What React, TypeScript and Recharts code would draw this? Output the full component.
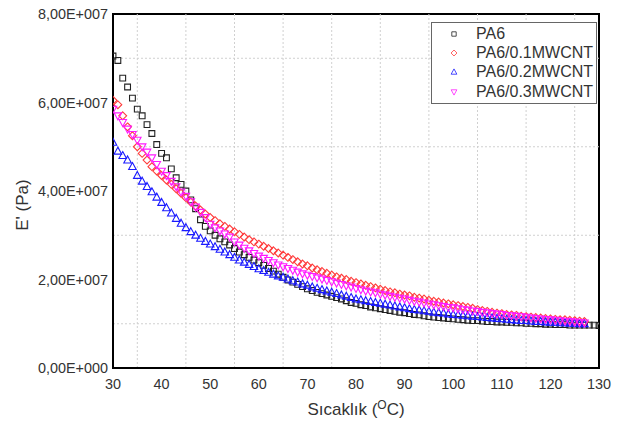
import React from 'react';
import {
  ScatterChart,
  Scatter,
  XAxis,
  YAxis,
  ReferenceLine,
  ReferenceArea,
  Legend,
} from 'recharts';

// temperature (°C) – one reading per degree
const temps = [
  30, 31, 32, 33, 34, 35, 36, 37, 38, 39, 40, 41, 42, 43, 44, 45, 46, 47, 48, 49,
  50, 51, 52, 53, 54, 55, 56, 57, 58, 59, 60, 61, 62, 63, 64, 65, 66, 67, 68, 69,
  70, 71, 72, 73, 74, 75, 76, 77, 78, 79, 80, 81, 82, 83, 84, 85, 86, 87, 88, 89,
  90, 91, 92, 93, 94, 95, 96, 97, 98, 99, 100, 101, 102, 103, 104, 105, 106, 107, 108, 109,
  110, 111, 112, 113, 114, 115, 116, 117, 118, 119, 120, 121, 122, 123, 124, 125, 126, 127, 128, 129,
  130,
];

// E' in units of 1e7 Pa
const pa6 = [
  7.05, 6.95, 6.55, 6.35, 6.1, 5.85, 5.7, 5.5, 5.3, 5.05, 4.85, 4.75, 4.5, 4.3, 4.15, 4.0, 3.8, 3.6, 3.35, 3.2,
  3.1, 3.0, 2.92, 2.85, 2.78, 2.7, 2.62, 2.56, 2.5, 2.44, 2.38, 2.32, 2.25, 2.19, 2.12, 2.05, 1.99, 1.94, 1.89, 1.84,
  1.79, 1.75, 1.71, 1.68, 1.65, 1.62, 1.59, 1.56, 1.52, 1.48, 1.46, 1.43, 1.41, 1.38, 1.36, 1.34, 1.32, 1.3, 1.28, 1.26,
  1.25, 1.23, 1.21, 1.2, 1.18, 1.16, 1.15, 1.14, 1.13, 1.12, 1.11, 1.1, 1.09, 1.08, 1.07, 1.07, 1.06, 1.05, 1.05, 1.04,
  1.04, 1.03, 1.03, 1.02, 1.02, 1.01, 1.01, 1.0, 1.0, 0.99, 0.99, 0.98, 0.98, 0.98, 0.97, 0.97, 0.97, 0.97, 0.97, 0.97,
  0.96,
];

const pa6_01 = [
  6.05, 5.95, 5.7, 5.45, 5.25, 5.0, 4.85, 4.7, 4.55, 4.45, 4.35, 4.25, 4.15, 4.05, 3.95, 3.85, 3.75, 3.66, 3.57, 3.48,
  3.4, 3.33, 3.26, 3.2, 3.14, 3.08, 3.02, 2.96, 2.9, 2.85, 2.8, 2.75, 2.7, 2.65, 2.6, 2.55, 2.5, 2.45, 2.4, 2.35,
  2.31, 2.26, 2.22, 2.18, 2.14, 2.1, 2.06, 2.03, 2.0, 1.96, 1.93, 1.9, 1.87, 1.84, 1.81, 1.78, 1.75, 1.72, 1.7, 1.67,
  1.65, 1.63, 1.6, 1.58, 1.56, 1.53, 1.51, 1.49, 1.47, 1.45, 1.43, 1.41, 1.39, 1.37, 1.35, 1.32, 1.3, 1.28, 1.26, 1.24,
  1.23, 1.21, 1.2, 1.19, 1.17, 1.16, 1.15, 1.14, 1.13, 1.12, 1.11, 1.1, 1.09, 1.09, 1.08, 1.07, 1.06, 1.05,
];

const pa6_02 = [
  5.1, 4.9, 4.8, 4.7, 4.55, 4.35, 4.22, 4.1, 3.98, 3.86, 3.74, 3.62, 3.5, 3.38, 3.27, 3.17, 3.08, 3.0, 2.93, 2.86,
  2.8, 2.74, 2.68, 2.62, 2.56, 2.5, 2.44, 2.39, 2.34, 2.29, 2.24, 2.2, 2.16, 2.12, 2.08, 2.05, 2.01, 1.97, 1.94, 1.9,
  1.87, 1.83, 1.8, 1.77, 1.74, 1.71, 1.68, 1.65, 1.62, 1.59, 1.56, 1.54, 1.52, 1.5, 1.48, 1.46, 1.44, 1.42, 1.4, 1.38,
  1.36, 1.34, 1.32, 1.31, 1.29, 1.28, 1.26, 1.25, 1.24, 1.22, 1.21, 1.2, 1.19, 1.18, 1.17, 1.16, 1.15, 1.14, 1.13, 1.12,
  1.11, 1.1, 1.09, 1.08, 1.07, 1.07, 1.06, 1.05, 1.05, 1.04, 1.03, 1.03, 1.02, 1.02, 1.01, 1.01, 1.0, 1.0,
];

const pa6_03 = [
  5.85, 5.7, 5.55, 5.4, 5.28, 5.15, 5.0, 4.88, 4.75, 4.6, 4.45, 4.35, 4.22, 4.1, 3.98, 3.88, 3.76, 3.64, 3.52, 3.4,
  3.25, 3.17, 3.1, 3.03, 2.96, 2.85, 2.78, 2.71, 2.65, 2.59, 2.53, 2.48, 2.43, 2.38, 2.33, 2.29, 2.25, 2.21, 2.17, 2.13,
  2.1, 2.07, 2.04, 2.01, 1.98, 1.95, 1.92, 1.89, 1.86, 1.83, 1.8, 1.77, 1.74, 1.72, 1.7, 1.67, 1.65, 1.62, 1.6, 1.58,
  1.56, 1.53, 1.51, 1.49, 1.47, 1.45, 1.43, 1.41, 1.39, 1.37, 1.36, 1.34, 1.32, 1.31, 1.29, 1.28, 1.26, 1.25, 1.23, 1.22,
  1.21, 1.19, 1.18, 1.17, 1.16, 1.15, 1.13, 1.12, 1.11, 1.1, 1.09, 1.08, 1.07, 1.06, 1.05, 1.04, 1.03, 1.02,
];

const xTicks = [30, 40, 50, 60, 70, 80, 90, 100, 110, 120, 130];
const yTicks = [0, 2, 4, 6, 8];
const xGrid = [35, 45, 55, 65, 75, 85, 95, 105, 115, 125];
const yGrid = [1, 3, 5, 7];

const toPoints = (vals: number[]) => vals.map((e, i) => ({ t: temps[i], e }));

type Kind = 'square' | 'diamond' | 'up' | 'down';

const series: { name: string; kind: Kind; color: string; data: { t: number; e: number }[] }[] = [
  { name: 'PA6', kind: 'square', color: '#222222', data: toPoints(pa6) },
  { name: 'PA6/0.1MWCNT', kind: 'diamond', color: '#ff3b3b', data: toPoints(pa6_01) },
  { name: 'PA6/0.2MWCNT', kind: 'up', color: '#1a1aff', data: toPoints(pa6_02) },
  { name: 'PA6/0.3MWCNT', kind: 'down', color: '#ff1aff', data: toPoints(pa6_03) },
];

const FONT = '"Liberation Sans", Arial, sans-serif';

function markerPath(kind: Kind, cx: number, cy: number, s: number) {
  switch (kind) {
    case 'square':
      return `M${cx - s},${cy - s}h${2 * s}v${2 * s}h${-2 * s}Z`;
    case 'diamond':
      return `M${cx},${cy - s * 1.35}L${cx + s * 1.35},${cy}L${cx},${cy + s * 1.35}L${cx - s * 1.35},${cy}Z`;
    case 'up':
      return `M${cx},${cy - s * 1.4}L${cx + s * 1.3},${cy + s}L${cx - s * 1.3},${cy + s}Z`;
    default:
      return `M${cx},${cy + s * 1.4}L${cx + s * 1.3},${cy - s}L${cx - s * 1.3},${cy - s}Z`;
  }
}

const makeShape = (kind: Kind, color: string) => (props: any) => {
  const { cx, cy } = props;
  if (cx == null || cy == null) return <g />;
  return <path d={markerPath(kind, cx, cy, 2.9)} fill="none" stroke={color} strokeWidth={1.1} />;
};

function sciLabel(v: number) {
  if (v === 0) return '0,00E+000';
  const val = v * 1e7;
  const exp = Math.floor(Math.log10(val));
  const mant = (val / Math.pow(10, exp)).toFixed(2).replace('.', ',');
  return `${mant}E+${String(exp).padStart(3, '0')}`;
}

function XTitle({ viewBox }: any) {
  const x = viewBox.x + viewBox.width / 2;
  const y = viewBox.y + 47;
  return (
    <text x={x} y={y} textAnchor="middle" fontFamily={FONT} fontSize={17} fill="#333">
      Sıcaklık (
      <tspan fontSize={12} dy={-6}>O</tspan>
      <tspan dy={6}>C)</tspan>
    </text>
  );
}

function YTitle({ viewBox }: any) {
  const x = viewBox.x + 14;
  const y = viewBox.y + viewBox.height / 2 + 14;
  return (
    <text
      x={x}
      y={y}
      textAnchor="middle"
      fontFamily={FONT}
      fontSize={17}
      fill="#333"
      transform={`rotate(-90 ${x} ${y})`}
      dominantBaseline="central"
    >
      E' (Pa)
    </text>
  );
}

function LegendBox() {
  return (
    <div
      style={{
        border: '1px solid #666',
        background: '#fff',
        width: 164,
        padding: '1px 0 2px 0',
        fontFamily: FONT,
        fontSize: 16,
        color: '#333',
      }}
    >
      {series.map((s) => (
        <div key={s.name} style={{ display: 'flex', alignItems: 'center', height: 19.3 }}>
          <svg width={44} height={14} style={{ flex: 'none' }}>
            <path d={markerPath(s.kind, 22, 7, 2.2)} fill="none" stroke={s.color} strokeWidth={1} opacity={0.8} />
          </svg>
          <span>{s.name}</span>
        </div>
      ))}
    </div>
  );
}

export default function App() {
  return (
    <div style={{ width: 618, height: 424, background: '#fff' }}>
      <style>{`body{margin:0}`}</style>
      <ScatterChart width={618} height={424} margin={{ top: 14, right: 19, bottom: 26, left: 8 }}>
        <XAxis
          type="number"
          dataKey="t"
          domain={[30, 130]}
          ticks={xTicks}
          allowDataOverflow
          tickLine={false}
          tickSize={8}
          tickMargin={3}
          height={30}
          axisLine={{ stroke: '#000', strokeWidth: 2 }}
          tick={{ fontFamily: FONT, fontSize: 14.4, fill: '#333' }}
          label={{ content: <XTitle /> }}
        />
        <YAxis
          type="number"
          dataKey="e"
          domain={[0, 8]}
          ticks={yTicks}
          allowDataOverflow
          tickLine={false}
          tickSize={3}
          tickMargin={2}
          width={105}
          tickFormatter={sciLabel}
          axisLine={{ stroke: '#000', strokeWidth: 2 }}
          tick={{ fontFamily: FONT, fontSize: 14.4, fill: '#333' }}
          label={{ content: <YTitle /> }}
        />
        {xGrid.map((v) => (
          <ReferenceLine key={`gx${v}`} x={v} stroke="#d0d0d0" strokeDasharray="2 2" />
        ))}
        {yGrid.map((v) => (
          <ReferenceLine key={`gy${v}`} y={v} stroke="#d0d0d0" strokeDasharray="2 2" />
        ))}
        {series.map((s) => (
          <Scatter
            key={s.name}
            name={s.name}
            data={s.data}
            shape={makeShape(s.kind, s.color)}
            isAnimationActive={false}
          />
        ))}
        <ReferenceArea x1={30} x2={130} y1={0} y2={8} fill="none" stroke="#000" strokeWidth={2} />
        <Legend
          layout="vertical"
          align="center"
          verticalAlign="middle"
          wrapperStyle={{ left: 431, top: 22, width: 166 }}
          content={<LegendBox />}
        />
      </ScatterChart>
    </div>
  );
}
